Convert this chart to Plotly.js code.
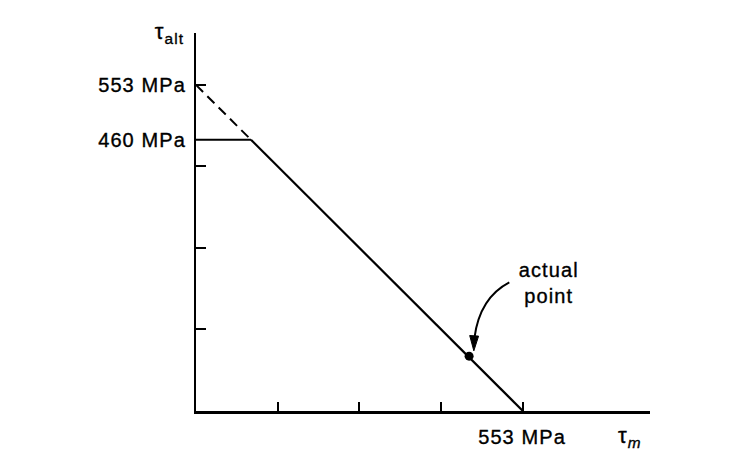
<!DOCTYPE html>
<html>
<head>
<meta charset="utf-8">
<script src="https://cdn.plot.ly/plotly-3.0.1.min.js"></script>
<style>
html,body{margin:0;padding:0;background:#fff;}
#chart{width:738px;height:460px;}
#chart .annotation-text{letter-spacing:1.1px;stroke:#000;stroke-width:0.35px;}
</style>
</head>
<body>
<div id="chart"></div>
<script>
// Values (MPa)
const endurance = 553;          // intercept on both axes
const alternating = 460;        // alternating stress limit
const xTicks = [138.25, 276.5, 414.75, 553];
const yTicks = [138.25, 276.5, 414.75, 553];
const xLabelValues = [553];
const xLabelText = ["553 MPa"];
const yLabelValues = [553, 460];
const yLabelText = ["553 MPa", "460 MPa"];
const actualPoint = {x: [462], y: [93]};
const kneeX = endurance - alternating; // 93

const font = {family: "Liberation Sans, Arial, sans-serif", size: 20, color: "#000"};

const traces = [
  {x: [0, kneeX], y: [endurance, alternating], mode: "lines",
   line: {color: "#000", width: 2, dash: "10px,6px"}, hoverinfo: "skip"},
  {x: [kneeX, endurance], y: [alternating, 0], mode: "lines",
   line: {color: "#000", width: 2.2}, hoverinfo: "skip"},
  {x: [0, kneeX], y: [alternating, alternating], mode: "lines",
   line: {color: "#000", width: 2}, hoverinfo: "skip"},
  {x: actualPoint.x, y: actualPoint.y, mode: "markers",
   marker: {color: "#000", size: 9}, hoverinfo: "skip"}
];

const annotations = [];
xLabelValues.forEach((v, i) => annotations.push({
  x: v, y: 0, xref: "x", yref: "y", text: xLabelText[i], showarrow: false, font: font,
  xanchor: "center", yanchor: "middle", yshift: -26}));
yLabelValues.forEach((v, i) => annotations.push({
  x: 0, y: v, xref: "x", yref: "y", text: yLabelText[i], showarrow: false, font: font,
  xanchor: "right", yanchor: "middle", xshift: -11}));
annotations.push(
  {x: 597, y: 217, xref: "x", yref: "y", text: "actual<br>point", showarrow: false,
   font: font, align: "center", xanchor: "center", yanchor: "middle"},
  {xref: "paper", yref: "paper", x: -0.024, y: 1.0, xanchor: "right", yanchor: "middle",
   text: "τ<sub>alt</sub>", showarrow: false, font: {family: font.family, size: 22, color: "#000"}},
  {xref: "paper", yref: "paper", x: 0.955, y: -0.07, xanchor: "center", yanchor: "middle",
   text: "τ<sub><i>m</i></sub>", showarrow: false, font: {family: font.family, size: 22, color: "#000"}}
);

const layout = {
  width: 738, height: 460,
  margin: {l: 196, r: 88, t: 33, b: 49},
  paper_bgcolor: "#fff", plot_bgcolor: "#fff",
  showlegend: false,
  font: font,
  xaxis: {range: [0, 768], showgrid: false, zeroline: false, showline: true,
          linecolor: "#000", linewidth: 2.5, ticks: "inside", ticklen: 9, tickwidth: 2,
          tickcolor: "#000", tickvals: xTicks, showticklabels: false, fixedrange: true},
  yaxis: {range: [0, 641], showgrid: false, zeroline: false, showline: true,
          linecolor: "#000", linewidth: 2.5, ticks: "inside", ticklen: 10, tickwidth: 2,
          tickcolor: "#000", tickvals: yTicks, showticklabels: false, fixedrange: true},
  shapes: [
    {type: "path", xref: "x", yref: "y",
     path: "M 530,218 Q 480,192 471,124",
     line: {color: "#000", width: 2}},
    {type: "path", xref: "x", yref: "y",
     path: "M 470,102 L 463,128 L 478,127 Z",
     fillcolor: "#000", line: {color: "#000", width: 1}}
  ],
  annotations: annotations
};

Plotly.newPlot("chart", traces, layout, {displayModeBar: false, staticPlot: true});
</script>
</body>
</html>
